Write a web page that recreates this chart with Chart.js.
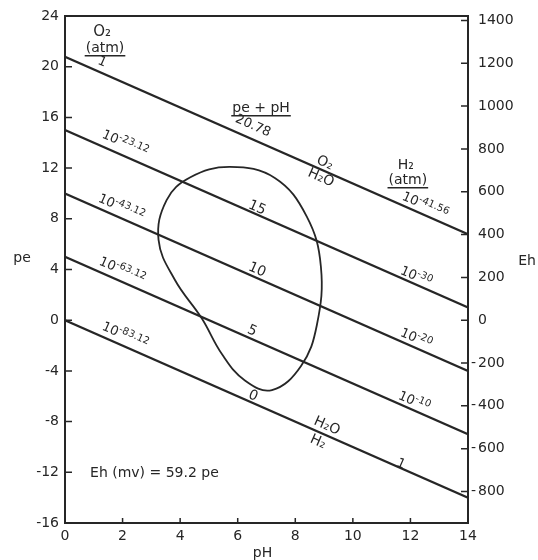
<!DOCTYPE html>
<html>
<head>
<meta charset="utf-8">
<script src="https://cdn.jsdelivr.net/npm/chart.js@4.4.1/dist/chart.umd.min.js"></script>
<style>
  body { margin: 0; background: #fff; }
  canvas { display: block; }
</style>
</head>
<body>
<canvas id="chart" width="538" height="560"></canvas>
<script>
const phTicks = [0, 2, 4, 6, 8, 10, 12, 14];
const peTicks = [-16, -12, -8, -4, 0, 4, 8, 12, 16, 20, 24];
const ehTicks = [-800, -600, -400, -200, 0, 200, 400, 600, 800, 1000, 1200, 1400];
const ehPerPe = 59.2;

// pe + pH = const lines, read at pH 0 and pH 14
const lineEndsPH = [0, 14];
const lineStartPe = [20.78, 15, 10, 5, 0];
const lineEndPe = [6.78, 1, -4, -9, -14];

// outline of the natural water field, clockwise from the top
const loopPH = [5.73, 7.29, 8.40, 8.89, 8.75, 8.20, 7.19, 6.25, 5.45, 4.75, 3.82, 3.25, 3.53, 4.34];
const loopPe = [12.09, 11.22, 8.17, 4.22, -0.38, -3.61, -5.51, -4.76, -2.67, 0.15, 3.17, 6.33, 9.48, 11.26];

// text on the diagram: anchor in pH / pe, rot = follows the slope of the lines
const notes = [
  { t: "O₂", pH: 1.29, pe: 22.74, size: 15 },
  { t: "(atm)", pH: 1.39, pe: 21.48, size: 14, under: true },
  { t: "1", pH: 1.29, pe: 20.37, size: 13, rot: true },
  { t: "pe + pH", pH: 6.81, pe: 16.74, size: 14, under: true },
  { t: "20.78", pH: 6.53, pe: 15.32, size: 13, rot: true },
  { t: "O₂", pH: 9.03, pe: 12.40, size: 14, rot: true },
  { t: "H₂O", pH: 8.89, pe: 11.22, size: 14, rot: true },
  { t: "H₂", pH: 11.84, pe: 12.24, size: 14 },
  { t: "(atm)", pH: 11.91, pe: 11.06, size: 14, under: true },
  { t: "10", sup: "-41.56", pH: 12.50, pe: 9.01, size: 13, rot: true },
  { t: "10", sup: "-23.12", pH: 2.08, pe: 13.90, size: 13, rot: true },
  { t: "10", sup: "-43.12", pH: 1.95, pe: 8.85, size: 13, rot: true },
  { t: "10", sup: "-63.12", pH: 1.98, pe: 3.88, size: 13, rot: true },
  { t: "10", sup: "-83.12", pH: 2.08, pe: -1.25, size: 13, rot: true },
  { t: "15", pH: 6.67, pe: 8.85, size: 14, rot: true },
  { t: "10", pH: 6.67, pe: 3.96, size: 14, rot: true },
  { t: "5", pH: 6.50, pe: -0.85, size: 14, rot: true },
  { t: "0", pH: 6.53, pe: -5.98, size: 14, rot: true },
  { t: "10", sup: "-30", pH: 12.19, pe: 3.41, size: 13, rot: true },
  { t: "10", sup: "-20", pH: 12.19, pe: -1.48, size: 13, rot: true },
  { t: "10", sup: "-10", pH: 12.12, pe: -6.45, size: 13, rot: true },
  { t: "H₂O", pH: 9.10, pe: -8.35, size: 14, rot: true },
  { t: "H₂", pH: 8.79, pe: -9.61, size: 14, rot: true },
  { t: "1", pH: 11.67, pe: -11.35, size: 13, rot: true },
  { t: "Eh (mv) = 59.2 pe", pH: 0.87, pe: -12.06, size: 14, left: true }
];

const FONT = '"DejaVu Sans", sans-serif';
const ink = "#262626";

function drawNote(ctx, n) {
  const supSize = Math.round(n.size * 0.8);
  ctx.font = n.size + "px " + FONT;
  const w1 = ctx.measureText(n.t).width;
  let w2 = 0;
  if (n.sup) {
    ctx.font = supSize + "px " + FONT;
    w2 = ctx.measureText(n.sup).width;
  }
  const total = w1 + w2;
  const x0 = n.left ? 0 : -total / 2;
  ctx.textAlign = "left";
  ctx.textBaseline = "middle";
  ctx.font = n.size + "px " + FONT;
  ctx.fillText(n.t, x0, 0);
  if (n.sup) {
    ctx.font = supSize + "px " + FONT;
    ctx.fillText(n.sup, x0 + w1, -4);
  }
  if (n.under) {
    ctx.lineWidth = 1.5;
    ctx.beginPath();
    ctx.moveTo(x0 - 1, n.size * 0.55);
    ctx.lineTo(x0 + total + 1, n.size * 0.55);
    ctx.stroke();
  }
}

const overlay = {
  id: "overlay",
  afterDraw(chart) {
    const { ctx, chartArea: a, scales: { x, y, y2 } } = chart;
    ctx.save();
    ctx.strokeStyle = ink;
    ctx.fillStyle = ink;
    ctx.lineWidth = 2;
    ctx.strokeRect(a.left, a.top, a.right - a.left, a.bottom - a.top);

    // tick marks point into the plot
    ctx.lineWidth = 1.5;
    ctx.beginPath();
    phTicks.forEach(v => {
      const px = x.getPixelForValue(v);
      ctx.moveTo(px, a.bottom);
      ctx.lineTo(px, a.bottom - 5);
    });
    peTicks.forEach(v => {
      const py = y.getPixelForValue(v);
      ctx.moveTo(a.left, py);
      ctx.lineTo(a.left + 7, py);
    });
    ehTicks.forEach(v => {
      const py = y2.getPixelForValue(v);
      ctx.moveTo(a.right, py);
      ctx.lineTo(a.right - 7, py);
    });
    ctx.stroke();

    // Eh labels, minus sign hangs left of the digits
    ctx.font = "14px " + FONT;
    ctx.textBaseline = "middle";
    ehTicks.forEach(v => {
      const py = y2.getPixelForValue(v);
      ctx.textAlign = "left";
      ctx.fillText(String(Math.abs(v)), a.right + 10, py);
      if (v < 0) {
        ctx.textAlign = "right";
        ctx.fillText("-", a.right + 8, py);
      }
    });

    // axis titles
    const midY = (a.top + a.bottom) / 2;
    ctx.font = "14px " + FONT;
    ctx.textAlign = "center";
    ctx.fillText("pe", a.left - 43, midY - 11);
    ctx.fillText("Eh", a.right + 59, midY - 8);
    ctx.fillText("pH", (a.left + a.right) / 2 - 4, a.bottom + 30);

    const ang = Math.atan2(
      y.getPixelForValue(-1) - y.getPixelForValue(0),
      x.getPixelForValue(1) - x.getPixelForValue(0)
    );
    notes.forEach(n => {
      ctx.save();
      ctx.translate(x.getPixelForValue(n.pH), y.getPixelForValue(n.pe));
      if (n.rot) ctx.rotate(ang);
      drawNote(ctx, n);
      ctx.restore();
    });
    ctx.restore();
  }
};

const datasets = lineStartPe.map((p0, i) => ({
  data: lineEndsPH.map((ph, j) => ({ x: ph, y: j === 0 ? p0 : lineEndPe[i] })),
  showLine: true,
  borderColor: ink,
  borderWidth: 2.2,
  pointRadius: 0
}));

// wrap the loop one point each way so the spline closes smoothly,
// then hide the two extra end segments
const loopPts = loopPH.map((ph, i) => ({ x: ph, y: loopPe[i] }));
const closed = [loopPts[loopPts.length - 1], ...loopPts, loopPts[0], loopPts[1]];
datasets.push({
  data: closed,
  showLine: true,
  borderColor: ink,
  borderWidth: 1.8,
  pointRadius: 0,
  tension: 0.4,
  segment: {
    borderColor: c => (c.p0DataIndex === 0 || c.p1DataIndex === closed.length - 1) ? "rgba(0,0,0,0)" : ink
  }
});

new Chart(document.getElementById("chart"), {
  type: "scatter",
  data: { datasets },
  options: {
    responsive: false,
    animation: false,
    layout: { padding: { top: 16, left: 0, right: 0, bottom: 0 } },
    plugins: { legend: { display: false }, tooltip: { enabled: false } },
    scales: {
      x: {
        type: "linear",
        min: 0,
        max: 14,
        afterBuildTicks: s => { s.ticks = phTicks.map(v => ({ value: v })); },
        afterFit: s => { s.height = 37; },
        grid: { display: false, drawTicks: false },
        border: { display: false },
        ticks: { padding: 5, color: ink, font: { family: FONT, size: 14 } }
      },
      y: {
        type: "linear",
        min: -16,
        max: 24,
        afterBuildTicks: s => { s.ticks = peTicks.map(v => ({ value: v })); },
        afterFit: s => { s.width = 65; },
        grid: { display: false, drawTicks: false },
        border: { display: false },
        ticks: { padding: 6, color: ink, font: { family: FONT, size: 14 } }
      },
      y2: {
        type: "linear",
        position: "right",
        min: -16 * ehPerPe,
        max: 24 * ehPerPe,
        afterBuildTicks: s => { s.ticks = ehTicks.map(v => ({ value: v })); },
        afterFit: s => { s.width = 70; },
        grid: { display: false, drawTicks: false },
        border: { display: false },
        ticks: { display: false }
      }
    }
  },
  plugins: [overlay]
});
</script>
</body>
</html>
